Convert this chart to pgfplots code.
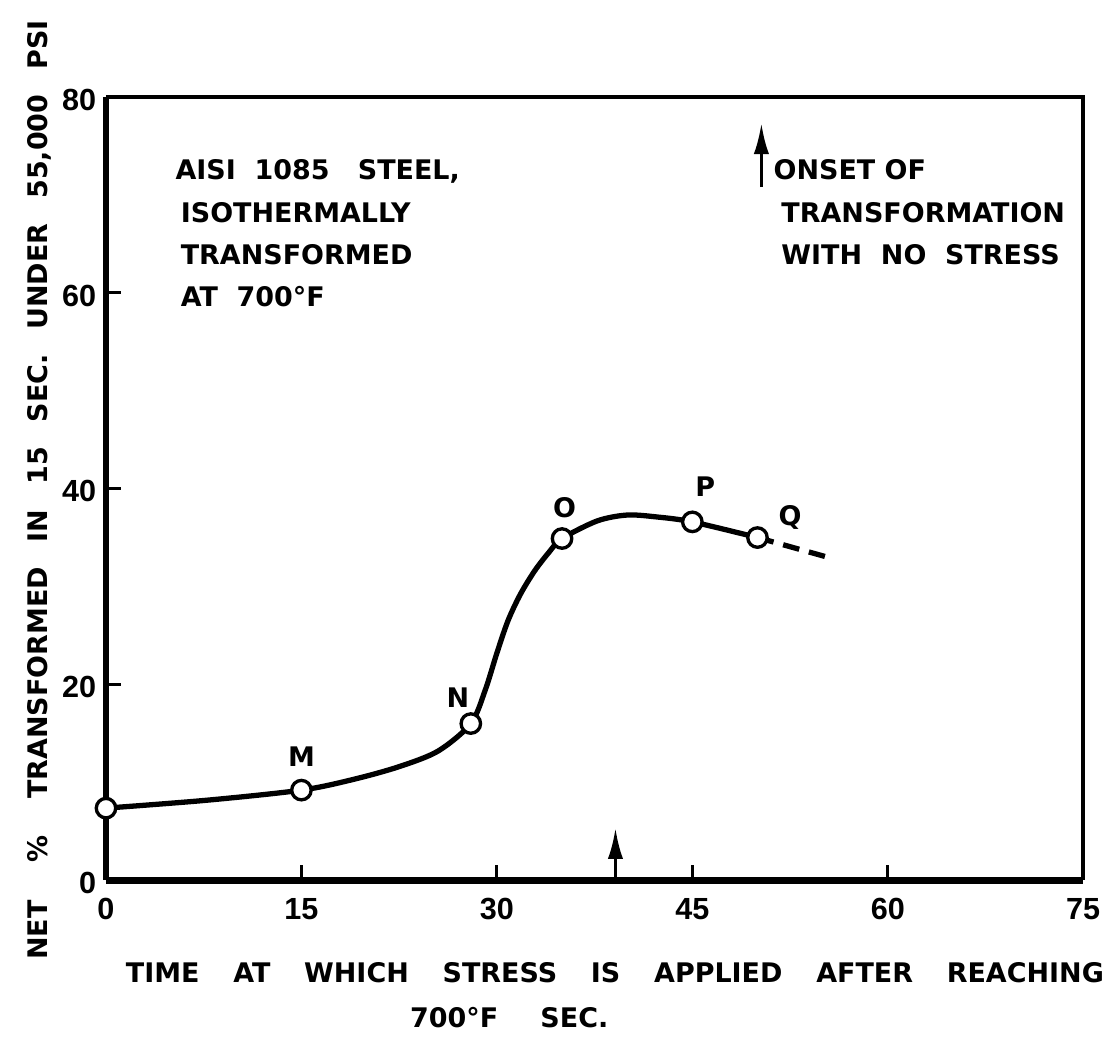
\documentclass[border=0pt]{standalone}
\usepackage{fontspec}
\setmainfont{DejaVu Sans}
\newfontfamily\tickfont{Liberation Sans}
\usepackage{pgfplots}
\pgfplotsset{compat=1.18}
\usetikzlibrary{arrows.meta}
\newcommand\lf{\fontsize{9.7}{11}\selectfont\bfseries}
\begin{document}
\begin{tikzpicture}
\begin{axis}[
  scale only axis, width=351.72pt, height=281.88pt,
  xmin=0, xmax=75, ymin=0, ymax=80,
  axis lines=left, axis line style={-, line width=2.5pt},
  xtick={0,15,30,45,60,75}, ytick={0,20,40,60,80},
  tick align=inside, major tick length=5.4pt,
  tick style={line width=1pt, black},
  tick label style={font=\tickfont\fontsize{11}{12}\selectfont\bfseries},
  /pgf/number format/assume math mode=true,
  xticklabel style={yshift=-3pt},
  yticklabel style={yshift=-1pt},
  clip=false,
]
% invisible frame fixing the picture size
\path (axis cs:-8.135,-16.245) rectangle (axis cs:77.44,89.91);
% top and right border
\draw[line width=1.5pt] (axis cs:0,80) -- (axis cs:75,80) -- (axis cs:75,0);

\addplot[line width=1.9pt, smooth, tension=0.5] coordinates {
  (0,7.36) (7.75,8.17) (15,9.2) (19,10.3) (22.5,11.6) (25.5,13.2) (28,16.0)
  (29.1,19.4) (30.0,23.2) (30.85,26.5) (31.8,29.2) (32.9,31.6) (34.0,33.5) (35,34.9)
  (37.7,36.7) (40,37.3) (42.3,37.1) (45,36.6) (50,35.0)};
\addplot[line width=1.9pt, dash pattern=on 6pt off 3.6pt] coordinates {
  (50,35.0) (55.9,32.8)};
\addplot[only marks, mark=*, mark size=3.5pt,
  mark options={fill=white, draw=black, line width=1.2pt}] coordinates {
  (0,7.36) (15,9.2) (28,16.0) (35,34.9) (45,36.6) (50,35.0)};

\node[font=\lf] at (axis cs:15,12.6) {M};
\node[font=\lf] at (axis cs:27,18.6) {N};
\node[font=\lf] at (axis cs:35.2,38.0) {O};
\node[font=\lf] at (axis cs:46,40.2) {P};
\node[font=\lf] at (axis cs:52.5,37.1) {Q};

\node[font=\lf, anchor=base west, inner sep=0pt] at (axis cs:5.3,71.6) {AISI\ \ 1085\ \ \ STEEL,};
\node[font=\lf, anchor=base west, inner sep=0pt] at (axis cs:5.7,67.2) {ISOTHERMALLY};
\node[font=\lf, anchor=base west, inner sep=0pt] at (axis cs:5.7,62.9) {TRANSFORMED};
\node[font=\lf, anchor=base west, inner sep=0pt] at (axis cs:5.7,58.6) {AT\ \ 700°F};

\draw[line width=1.1pt, -{Latex[length=11pt,width=5.5pt]}] (axis cs:50.3,70.8) -- (axis cs:50.3,77.3);
\node[font=\lf, anchor=base west, inner sep=0pt] at (axis cs:51.2,71.6) {ONSET\ OF};
\node[font=\lf, anchor=base west, inner sep=0pt] at (axis cs:51.8,67.2) {TRANSFORMATION};
\node[font=\lf, anchor=base west, inner sep=0pt] at (axis cs:51.8,62.9) {WITH\ \ NO\ \ STRESS};

\draw[line width=1.1pt, -{Latex[length=11pt,width=5.5pt]}] (axis cs:39.1,0) -- (axis cs:39.1,5.3);

\node[font=\lf, rotate=90, inner sep=0pt] at (axis cs:-5.1,39.85)
  {\makebox[338pt][s]{NET\ \ \ \%\ \ \ TRANSFORMED\ \ IN\ \ 15\ \ SEC.\ \ UNDER\ \ 55,000\ \ PSI}};
\node[font=\lf, inner sep=0pt] at (axis cs:39.06,-9.4)
  {\makebox[352pt][s]{TIME\ \ AT\ \ WHICH\ \ STRESS\ \ IS\ \ APPLIED\ \ AFTER\ \ REACHING}};
\node[font=\lf, anchor=west, inner sep=0pt] at (axis cs:23.3,-14.0) {700°F};
\node[font=\lf, anchor=west, inner sep=0pt] at (axis cs:33.3,-14.0) {SEC.};
\end{axis}
\end{tikzpicture}
\end{document}
